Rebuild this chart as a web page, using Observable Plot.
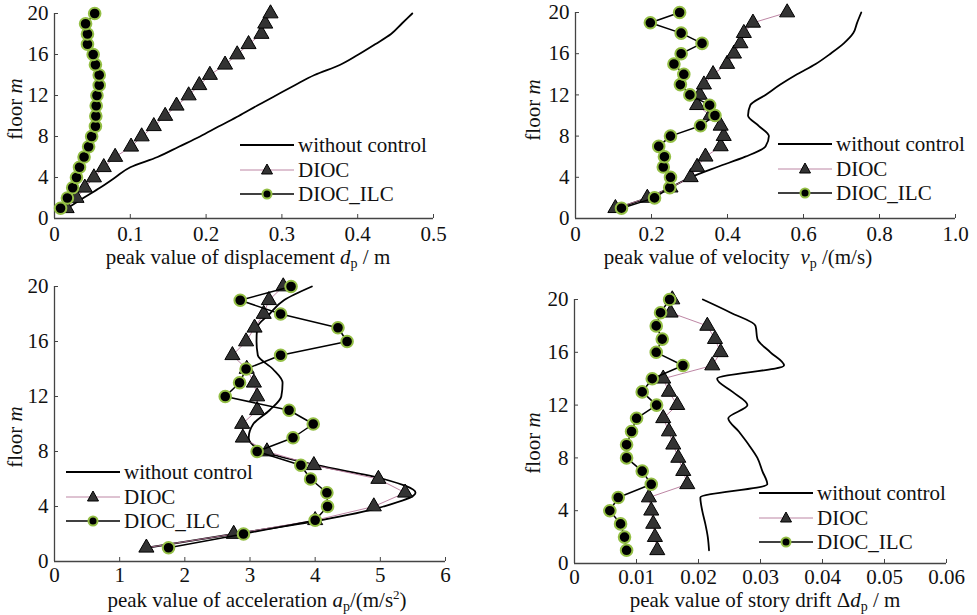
<!DOCTYPE html>
<html><head><meta charset="utf-8">
<script src="https://cdn.jsdelivr.net/npm/d3@7"></script>
<script src="https://cdn.jsdelivr.net/npm/@observablehq/plot@0.6"></script>
<style>
body{margin:0;background:#fff;}
#wrap{position:relative;width:977px;height:615px;overflow:hidden;font-family:"Liberation Serif","Times New Roman",serif;color:#111;}
#wrap svg.plotsvg{position:absolute;left:0;top:0;}
.lbl{position:absolute;font-size:21px;line-height:22px;white-space:nowrap;}
.xl{transform:translateX(-50%);line-height:16px;}
.yl{transform:translate(-50%,-50%) rotate(-90deg);}
.sub{font-size:14px;line-height:10px;position:relative;top:4px;}
.sup{font-size:13px;line-height:10px;position:relative;top:-8px;}
.leg{position:absolute;}
</style></head><body><div id="wrap"></div><script>
const floors = d3.range(1, 21);
const yTicks = [0, 4, 8, 12, 16, 20];
const legendNames = ["without control", "DIOC", "DIOC_ILC"];

// Panel 1: displacement (m)
const dispTicks = [0, 0.1, 0.2, 0.3, 0.4, 0.5];
const dispWithout = [0.017,0.038,0.060,0.080,0.100,0.136,0.164,0.192,0.217,0.243,0.267,0.292,0.317,0.343,0.377,0.401,0.423,0.444,0.458,0.472];
const dispDIOC = [0.016,0.029,0.040,0.052,0.065,0.080,0.101,0.115,0.131,0.146,0.161,0.177,0.191,0.205,0.225,0.241,0.256,0.273,0.278,0.285];
const dispILC = [0.008,0.017,0.024,0.029,0.033,0.039,0.045,0.049,0.054,0.0545,0.055,0.056,0.059,0.059,0.054,0.051,0.0435,0.0435,0.041,0.053];

// Panel 2: velocity (m/s)
const velTicks = [0, 0.2, 0.4, 0.6, 0.8, 1.0];
const velWithout = [0.11,0.189,0.25,0.303,0.373,0.447,0.50,0.509,0.482,0.454,0.46,0.50,0.539,0.583,0.632,0.671,0.706,0.731,0.741,0.752];
const velDIOC = [0.105,0.189,0.25,0.303,0.32,0.342,0.382,0.39,0.382,0.355,0.32,0.327,0.338,0.362,0.399,0.417,0.434,0.443,0.467,0.557];
const velILC = [0.121,0.208,0.248,0.25,0.231,0.234,0.219,0.25,0.329,0.367,0.353,0.301,0.276,0.285,0.259,0.278,0.333,0.278,0.197,0.274];

// Panel 3: acceleration (m/s^2)
const accTicks = [0, 1, 2, 3, 4, 5, 6];
const accWithout = [1.42,2.75,4.08,5.05,5.54,5.05,4.03,3.21,2.98,3.05,3.3,3.48,3.5,3.35,3.12,3.10,3.11,3.3,3.52,3.95];
const accDIOC = [1.41,2.75,4.00,4.90,5.38,4.97,3.98,3.26,2.89,2.88,3.11,3.11,3.06,2.95,2.73,2.94,3.07,3.21,3.29,3.51];
const accILC = [1.75,2.90,4.00,4.19,4.18,3.93,3.78,3.11,3.66,3.97,3.60,2.62,2.84,2.94,3.47,4.49,4.35,3.47,2.85,3.63];

// Panel 4: story drift (m)
const driftTicks = [0, 0.01, 0.02, 0.03, 0.04, 0.05, 0.06];
const driftWithout = [0.0217,0.0215,0.0211,0.0206,0.0203,0.0311,0.0303,0.0295,0.0281,0.0265,0.0248,0.0279,0.0255,0.0230,0.0338,0.0316,0.0295,0.0292,0.0252,0.0207];
const driftDIOC = [0.01335,0.01297,0.0127,0.01238,0.012,0.01819,0.01754,0.01674,0.01593,0.01523,0.01431,0.01657,0.01523,0.01431,0.02222,0.02357,0.02266,0.02142,0.0155,0.01577];
const driftILC = [0.0084,0.00807,0.00743,0.0057,0.00705,0.01238,0.01092,0.0084,0.0084,0.0092,0.01001,0.01324,0.01092,0.01254,0.01749,0.01318,0.01415,0.01318,0.01388,0.01534];

const W = 977, H = 615;
const AX = "#444";
const GREEN = "#94bf45";
const PINK = "#b5789a";
const FONT = '"Liberation Serif","Times New Roman",serif';
const wrap = document.getElementById("wrap");

const rows = arr => floors.map((f, i) => ({floor: f, v: arr[i]}));

function panel(o) {
  const fmt = d => d === 0 ? "0" : d3.format(o.fmt)(d);
  const svg = Plot.plot({
    width: W, height: H,
    marginLeft: o.x0, marginRight: W - o.x1,
    marginTop: o.yTop, marginBottom: H - o.yBot,
    style: {background: "transparent", fontFamily: FONT, fontSize: "21px", color: "#111", overflow: "visible"},
    x: {domain: [o.ticks[0], o.ticks[o.ticks.length - 1]], label: null},
    y: {domain: [0, 20], label: null},
    marks: [
      Plot.ruleY([0], {stroke: AX, strokeWidth: 1.3}),
      Plot.ruleX([o.ticks[0]], {stroke: AX, strokeWidth: 1.3}),
      Plot.axisX({ticks: o.ticks, tickFormat: fmt, tickSize: -4, tickPadding: o.tickPad, stroke: AX, fill: "#111", fontSize: 21}),
      Plot.axisY({ticks: yTicks, tickSize: -4, tickPadding: 10, stroke: AX, fill: "#111", fontSize: 21}),
      Plot.line(rows(o.without), {x: "v", y: "floor", curve: "monotone-y", stroke: "#000", strokeWidth: 1.8}),
      Plot.line(rows(o.dioc), {x: "v", y: "floor", stroke: PINK, strokeWidth: 0.9}),
      Plot.dot(rows(o.dioc), {x: "v", y: "floor", symbol: "triangle", r: 5.6, fill: "#333", stroke: "#000", strokeWidth: 1}),
      Plot.line(rows(o.ilc), {x: "v", y: "floor", stroke: "#000", strokeWidth: 1.5}),
      Plot.dot(rows(o.ilc), {x: "v", y: "floor", r: 5.8, fill: "#000", stroke: GREEN, strokeWidth: 2})
    ]
  });
  svg.classList.add("plotsvg");
  wrap.appendChild(svg);

  // x label
  const xl = document.createElement("div");
  xl.className = "lbl xl";
  xl.style.left = o.xlX + "px";
  xl.style.top = (o.xlY - 8) + "px";
  xl.innerHTML = o.xlabel;
  wrap.appendChild(xl);
  // y label
  const yl = document.createElement("div");
  yl.className = "lbl yl";
  yl.style.left = o.ylX + "px";
  yl.style.top = o.ylY + "px";
  yl.innerHTML = "floor <i>m</i>";
  wrap.appendChild(yl);

  // legend
  const lg = document.createElement("div");
  lg.className = "leg";
  lg.style.left = o.legX + "px";
  lg.style.top = (o.legY - 12) + "px";
  let html = '<svg width="56" height="76" style="position:absolute;left:0;top:0;overflow:visible">';
  const gy = [12, 37, 61];
  html += `<line x1="0" x2="54" y1="${gy[0]}" y2="${gy[0]}" stroke="#000" stroke-width="1.8"/>`;
  html += `<line x1="0" x2="54" y1="${gy[1]}" y2="${gy[1]}" stroke="${PINK}" stroke-width="0.9"/>`;
  html += `<path d="M27,${gy[1]-6} L32.5,${gy[1]+4} L21.5,${gy[1]+4} Z" fill="#333" stroke="#000" stroke-width="1"/>`;
  html += `<line x1="0" x2="54" y1="${gy[2]}" y2="${gy[2]}" stroke="#000" stroke-width="1.5"/>`;
  html += `<circle cx="27" cy="${gy[2]}" r="4.5" fill="#000" stroke="${GREEN}" stroke-width="2"/>`;
  html += '</svg>';
  legendNames.forEach((n, i) => {
    html += `<div class="lbl" style="left:58px;top:${gy[i]-11}px">${n}</div>`;
  });
  lg.innerHTML = html;
  wrap.appendChild(lg);
}

panel({x0: 54, x1: 433, yTop: 13, yBot: 218, ticks: dispTicks, fmt: ".1f", tickPad: 12,
  without: dispWithout, dioc: dispDIOC, ilc: dispILC,
  xlabel: 'peak value of displacement <i>d</i><span class="sub">p</span> / m', xlX: 248, xlY: 257,
  ylX: 15, ylY: 109, legX: 240, legY: 145});
panel({x0: 575, x1: 955, yTop: 12, yBot: 218, ticks: velTicks, fmt: ".1f", tickPad: 12,
  without: velWithout, dioc: velDIOC, ilc: velILC,
  xlabel: 'peak value of velocity&nbsp;&nbsp;<i>v</i><span class="sub">p</span> /(m/s)', xlX: 738, xlY: 257,
  ylX: 533, ylY: 110, legX: 778, legY: 144});
panel({x0: 54, x1: 445, yTop: 286, yBot: 561, ticks: accTicks, fmt: "d", tickPad: 10,
  without: accWithout, dioc: accDIOC, ilc: accILC,
  xlabel: 'peak value of acceleration <i>a</i><span class="sub">p</span>/(m/s<span class="sup">2</span>)', xlX: 257, xlY: 600,
  ylX: 15, ylY: 437, legX: 66, legY: 472});
panel({x0: 574, x1: 946, yTop: 299, yBot: 563, ticks: driftTicks, fmt: ".2f", tickPad: 10,
  without: driftWithout, dioc: driftDIOC, ilc: driftILC,
  xlabel: 'peak value of story drift Δ<i>d</i><span class="sub">p</span> / m', xlX: 765, xlY: 600,
  ylX: 533, ylY: 443, legX: 759, legY: 493});
</script></body></html>
